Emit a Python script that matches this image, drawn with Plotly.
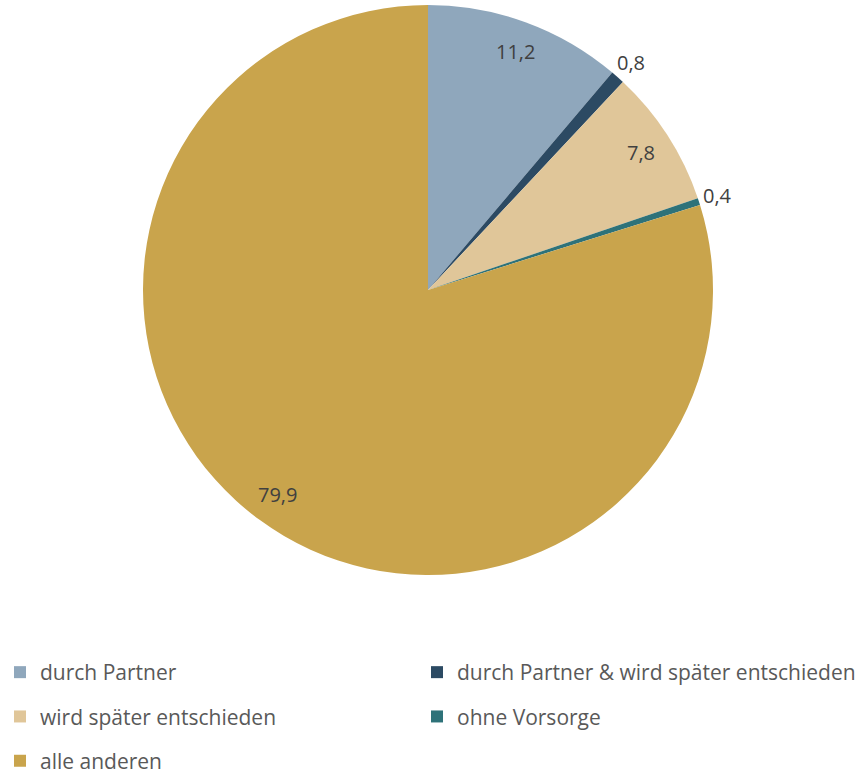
import math
import plotly.graph_objects as go

labels = ["durch Partner", "durch Partner & wird später entschieden",
          "wird später entschieden", "ohne Vorsorge", "alle anderen"]
values = [11.2, 0.8, 7.8, 0.4, 79.9]
colors = ["#8FA7BC", "#2C4A63", "#E0C699", "#2E7279", "#C9A44C"]
label_pos = ["inside", "outside", "inside", "outside", "inside"]
legend_col = ["legend", "legend2", "legend", "legend2", "legend"]

W, H = 855, 773
cx, cy, R = 428, 290, 285
dom_x = [(cx - R) / W, (cx + R) / W]
dom_y = [1 - (cy + R) / H, 1 - (cy - R) / H]

fig = go.Figure()
fig.add_trace(go.Pie(
    labels=labels, values=values, sort=False, direction="clockwise", rotation=0,
    marker=dict(colors=colors, line=dict(width=0)),
    textinfo="none", hoverinfo="label+value", showlegend=False,
    domain=dict(x=dom_x, y=dom_y),
))

for name, col, lg in zip(labels, colors, legend_col):
    fig.add_trace(go.Scatter(
        x=[None], y=[None], mode="markers", name=name, legend=lg, legendgroup=name,
        marker=dict(symbol="square", size=12, color=col),
    ))

# data labels placed along the mid-angle of each slice
total = sum(values)
cum = 0.0
annotations = []
for v, pos in zip(values, label_pos):
    mid = (cum + v / 2) / total * 2 * math.pi
    cum += v
    r = R * (0.89 if pos == "inside" else 1.07)
    px = cx + r * math.sin(mid)
    py = cy - r * math.cos(mid)
    annotations.append(dict(
        x=px / W, y=1 - py / H, xref="paper", yref="paper", showarrow=False,
        text=f"{v:.1f}".replace(".", ","),
        font=dict(size=20, color="#404040", family="Open Sans"),
        xanchor="center", yanchor="middle",
    ))

leg_common = dict(orientation="v", yanchor="top", xanchor="left",
                  tracegroupgap=14, bgcolor="rgba(0,0,0,0)",
                  font=dict(size=21, color="#595959", family="Open Sans"),
                  itemclick=False, itemdoubleclick=False)
fig.update_layout(
    width=W, height=H, margin=dict(l=0, r=0, t=0, b=0, autoexpand=False),
    paper_bgcolor="white", plot_bgcolor="white",
    xaxis=dict(visible=False), yaxis=dict(visible=False),
    annotations=annotations,
    legend=dict(x=0.0, y=1 - 652 / H, **leg_common),
    legend2=dict(x=417 / W, y=1 - 652 / H, **leg_common),
)

fig.write_html("out.html")
